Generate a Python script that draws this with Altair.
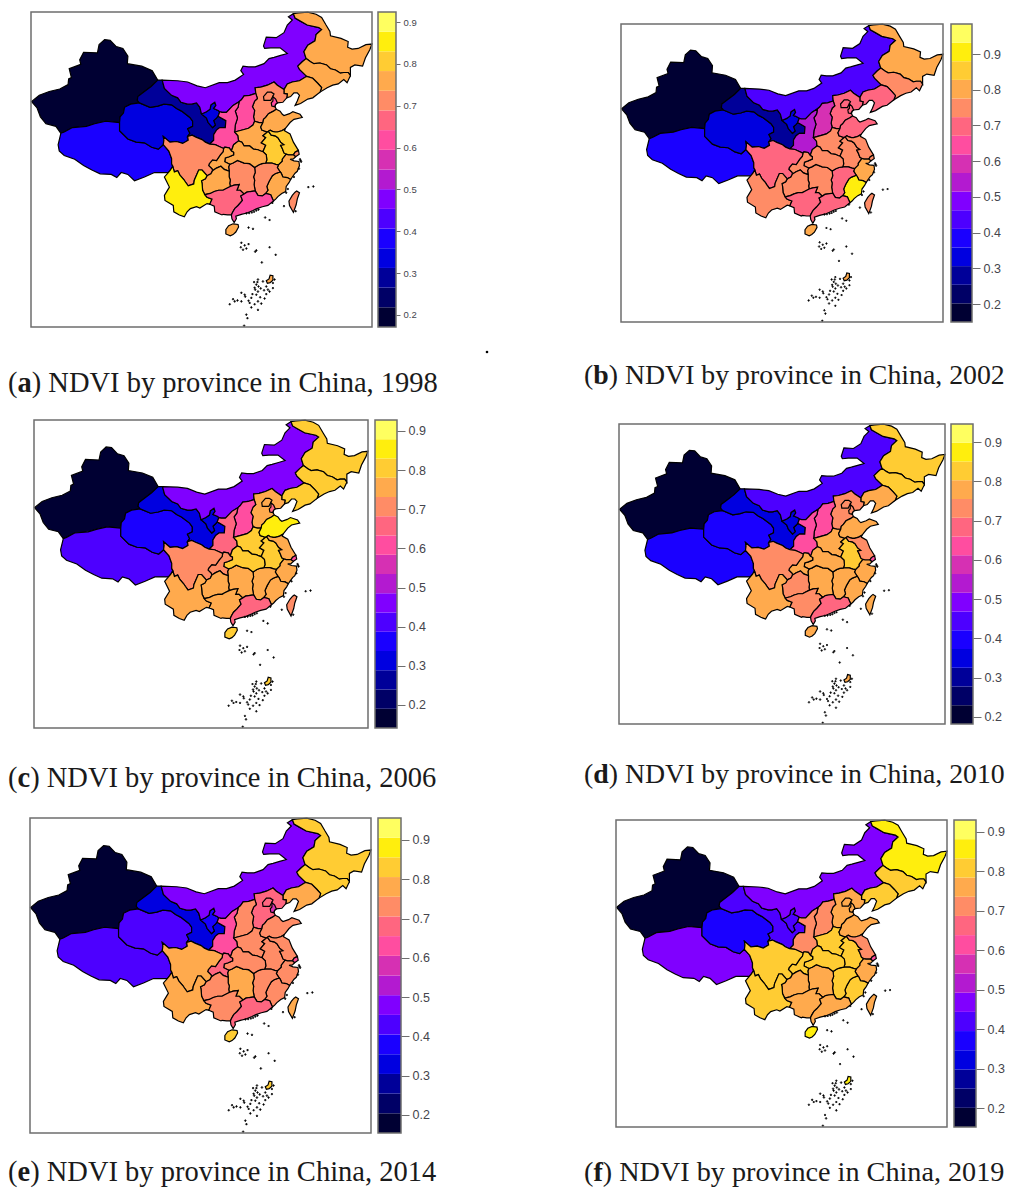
import altair as alt

MARGIN = 8
VIEW_W, VIEW_H = 1004, 1180

PALETTE = ["#000033", "#000066", "#000099", "#0000E0", "#1A00FF", "#4D00FF", "#8000FF", "#B31AD0",
           "#D630B3", "#FF4DA0", "#FF6680", "#FF8C66", "#FFAA4D", "#FFCC33", "#FFEE0D", "#FFFF60"]

PROVINCES = ["XJ", "XZ", "QH", "GS", "NX", "NM", "HLJ", "JL", "LN", "HEB", "BJ", "TJ", "SX", "SN", "HEN", "SD",
             "AH", "JS", "SH", "ZJ", "FJ", "JX", "HUN", "HUB", "CQ", "SC", "GZ", "YN", "GX", "GD", "HI", "TW"]

NDVI_1998 = [.20, .38, .34, .29, .34, .48, .76, .76, .76, .71, .71, .62, .62, .62, .76, .76,
             .81, .81, .71, .76, .76, .71, .71, .76, .76, .71, .76, .85, .67, .62, .76, .71]
NDVI_2002 = [.18, .38, .33, .28, .33, .44, .80, .75, .70, .70, .70, .70, .59, .54, .75, .70,
             .75, .75, .75, .80, .91, .70, .75, .75, .75, .70, .75, .75, .70, .70, .80, .75]
NDVI_2006 = [.17, .41, .36, .31, .31, .46, .81, .81, .81, .76, .76, .66, .61, .66, .81, .85,
             .81, .76, .61, .76, .76, .76, .76, .81, .71, .71, .76, .76, .76, .66, .81, .71]
NDVI_2010 = [.21, .40, .40, .35, .35, .45, .83, .83, .78, .73, .73, .73, .64, .64, .78, .78,
             .83, .73, .64, .78, .78, .78, .78, .78, .78, .73, .73, .78, .73, .68, .78, .78]
NDVI_2014 = [.18, .43, .43, .33, .38, .48, .83, .83, .78, .68, .68, .58, .73, .63, .73, .73,
             .73, .73, .63, .73, .73, .73, .78, .73, .68, .78, .73, .78, .73, .68, .83, .78]
NDVI_2019 = [.18, .47, .37, .42, .42, .47, .86, .81, .81, .76, .76, .76, .71, .71, .81, .76,
             .81, .71, .61, .76, .81, .81, .76, .81, .81, .81, .76, .81, .76, .76, .86, .76]

ARCS = {
 "xj_out": [(78.9,34.4),(78.0,35.5),(76.2,35.9),(75.2,37.0),(74.6,38.4),(73.6,39.4),(75.0,40.4),(76.8,41.0),(78.7,41.4),(80.2,42.1),(80.3,43.0),(80.8,43.2),(80.4,44.6),(82.5,45.3),(82.3,46.0),(83.0,47.2),(85.5,47.1),(85.8,48.4),(86.8,49.2),(87.8,49.1),(88.9,48.1),(90.1,47.8),(91.0,46.6),(90.9,45.4),(93.5,45.0),(95.4,44.3),(96.4,42.8)],
 "gs_n0": [(96.4,42.8),(97.2,42.8)],
 "xj_gs": [(96.4,42.8),(95.2,41.8),(94.0,41.0),(92.8,40.2),(92.7,39.6),(93.1,39.2)],
 "xj_qh": [(93.1,39.2),(91.5,39.0),(90.4,38.5),(90.2,37.6),(89.6,37.0),(89.5,36.1)],
 "xj_xz": [(89.5,36.1),(87.0,36.3),(85.0,35.9),(83.5,35.5),(81.0,35.3),(79.5,34.6),(78.9,34.4)],
 "xz_out": [(98.3,28.2),(97.3,28.2),(95.8,28.2),(94.0,27.5),(92.2,26.9),(91.0,27.9),(89.8,28.2),(89.0,27.4),(88.0,27.9),(86.0,28.0),(84.5,28.6),(83.0,29.3),(81.4,30.3),(79.5,30.9),(78.6,31.6),(78.4,32.6),(78.9,34.4)],
 "xz_qh": [(89.5,36.1),(89.5,34.8),(91.0,33.5),(92.5,33.0),(94.0,32.9),(95.3,32.2),(96.5,31.9),(97.4,32.6)],
 "xz_sc": [(97.4,32.6),(98.4,31.6),(98.9,30.4),(98.9,29.6),(99.1,29.2)],
 "xz_yn": [(99.1,29.2),(98.7,28.6),(98.3,28.2)],
 "qh_gs": [(93.1,39.2),(95.0,38.5),(96.4,38.7),(97.5,39.0),(98.9,38.9),(99.8,38.3),(100.7,37.9),(102.2,36.9),(102.7,36.3),(102.7,35.5),(101.8,35.1),(102.2,34.4),(101.8,33.9)],
 "qh_sc": [(97.4,32.6),(97.5,33.3),(97.4,33.9),(98.6,33.0),(99.8,33.1),(100.9,32.8),(101.9,33.3),(101.8,33.9)],
 "gs_sc": [(101.8,33.9),(102.6,34.1),(103.3,33.8),(104.4,33.4),(105.0,33.0),(105.8,32.7)],
 "sn_gs": [(105.8,32.7),(106.5,33.3),(106.5,34.2),(107.0,34.9),(107.6,35.3),(108.6,35.3),(108.7,36.4),(107.3,37.1)],
 "gs_nx": [(104.3,37.45),(105.2,36.8),(105.5,36.1),(106.3,35.3),(106.8,35.7),(106.5,36.4),(107.0,36.8),(107.3,37.1)],
 "gs_nm": [(104.3,37.45),(104.0,38.5),(103.4,39.2),(102.5,39.0),(101.8,39.0),(100.6,39.3),(100.0,40.0),(98.9,40.4),(97.6,41.5),(97.2,42.8)],
 "nx_nm": [(107.6,37.8),(107.3,38.0),(106.5,38.3),(106.9,38.8),(106.7,39.3),(106.0,38.9),(105.85,38.2),(105.2,37.8),(104.3,37.45)],
 "sn_nx": [(107.3,37.1),(107.6,37.8)],
 "nm_out": [(97.2,42.8),(100.0,42.7),(101.8,42.5),(103.5,41.9),(105.0,41.6),(107.5,42.4),(109.0,42.4),(110.4,42.8),(111.9,43.7),(111.4,44.3),(111.8,45.0),(112.8,44.9),(114.0,44.9),(115.6,45.4),(116.5,46.2),(117.4,46.4),(118.6,46.7),(119.8,47.0),(118.5,47.9),(116.8,47.9),(115.7,47.8),(115.5,48.2),(116.0,49.6),(117.8,49.5),(119.2,50.3),(119.8,51.5),(120.7,52.3),(120.0,52.8),(120.9,53.3)],
 "hlj_nm": [(120.9,53.3),(121.2,52.6),(122.0,52.2),(123.4,51.5),(125.5,51.1),(126.0,50.8),(125.0,50.0),(124.8,49.0),(123.5,48.3),(122.8,47.3),(123.2,46.2)],
 "jl_nm": [(123.2,46.2),(122.5,45.7),(121.7,45.0),(122.0,44.5),(123.3,43.4)],
 "ln_nm": [(119.2,41.3),(119.8,42.2),(120.7,42.5),(122.0,42.7),(123.3,43.4)],
 "heb_nm": [(114.1,40.7),(114.0,41.6),(115.0,41.7),(116.2,42.0),(117.4,42.5),(118.0,42.0),(119.2,41.3)],
 "sx_nm": [(111.1,39.4),(111.5,39.7),(112.0,40.3),(113.0,40.4),(114.1,40.7)],
 "sn_nm": [(107.6,37.8),(108.0,37.7),(108.8,37.7),(110.0,38.8),(111.1,39.4)],
 "hlj_out": [(120.9,53.3),(121.8,53.4),(123.5,53.55),(125.0,53.2),(126.0,52.7),(126.8,51.5),(127.5,50.5),(127.6,49.8),(129.5,49.4),(130.8,48.9),(130.7,48.0),(131.5,47.7),(132.6,47.8),(134.0,48.4),(135.1,48.5),(134.7,47.6),(133.9,46.3),(133.4,45.0),(132.0,45.2),(131.2,44.8),(131.2,43.5)],
 "jl_hlj": [(123.2,46.2),(124.0,45.7),(124.6,45.4),(125.7,45.5),(126.9,45.2),(127.6,44.6),(128.5,44.4),(129.4,43.9),(130.0,44.0),(130.8,44.0),(131.2,43.5)],
 "jl_out": [(131.2,43.5),(130.6,42.4),(130.0,42.9),(129.0,42.2),(128.0,42.0),(127.0,41.6),(125.7,40.9)],
 "ln_jl": [(123.3,43.4),(124.4,43.1),(125.3,42.3),(126.0,41.6),(125.7,40.9)],
 "ln_out": [(125.7,40.9),(124.4,40.0),(123.5,39.8),(122.2,39.1),(121.2,38.8),(121.6,39.5),(122.0,40.4),(121.6,40.8),(121.0,40.8),(120.4,40.2),(119.7,40.0)],
 "heb_ln": [(119.2,41.3),(119.2,40.7),(119.8,40.6),(119.7,40.0)],
 "heb_coast": [(119.7,40.0),(119.0,39.3),(118.0,39.2),(117.7,39.0),(117.6,38.6),(117.8,38.2)],
 "sd_heb": [(117.8,38.2),(117.3,37.9),(116.4,37.5),(115.9,36.9),(115.5,36.6),(115.4,36.1)],
 "heb_hen": [(115.4,36.1),(114.7,36.1),(113.9,36.3)],
 "sx_heb": [(114.1,40.7),(114.4,39.9),(113.9,39.5),(113.5,38.6),(113.9,38.0),(113.7,37.0),(113.9,36.3)],
 "sn_sx": [(111.1,39.4),(110.9,38.5),(110.4,37.9),(110.8,36.8),(110.4,35.7),(110.3,34.6)],
 "sx_hen": [(113.9,36.3),(113.6,35.7),(112.8,35.2),(112.0,35.0),(110.3,34.6)],
 "sn_hen": [(110.3,34.6),(110.9,34.0),(111.0,33.2)],
 "hub_sn": [(109.7,31.6),(110.1,32.6),(111.0,33.2)],
 "sn_cq": [(109.7,31.6),(109.3,32.1),(108.5,32.2),(108.3,32.0)],
 "sn_sc": [(105.8,32.7),(106.8,32.6),(107.3,32.4),(108.3,32.0)],
 "hen_hub": [(111.0,33.2),(111.6,33.0),(112.0,32.4),(113.0,32.4),(113.7,31.9),(114.5,31.8),(115.0,31.6),(115.4,31.5)],
 "ah_hen": [(115.4,31.5),(115.9,32.5),(115.1,32.9),(115.9,33.7),(115.4,34.0),(116.2,34.6)],
 "sd_hen": [(116.2,34.6),(115.2,34.9),(115.0,35.4),(115.4,36.1)],
 "sd_coast": [(117.8,38.2),(118.5,37.9),(118.9,37.4),(119.2,37.2),(120.2,37.5),(120.8,37.8),(122.1,37.4),(122.5,36.9),(121.0,36.6),(120.3,36.1),(119.4,35.1)],
 "sd_js": [(119.4,35.1),(118.8,34.8),(118.0,34.6),(117.6,34.6),(117.1,34.7),(116.7,34.9),(116.4,34.7)],
 "sd_ah": [(116.4,34.7),(116.2,34.6)],
 "js_coast": [(119.4,35.1),(119.3,34.8),(120.3,34.3),(120.9,33.0),(121.8,31.7)],
 "js_sh": [(121.8,31.7),(121.2,31.4),(120.9,31.0)],
 "js_zj": [(120.9,31.0),(120.0,31.0),(119.6,31.1)],
 "js_ah": [(119.6,31.1),(119.2,31.3),(118.9,32.0),(118.6,32.5),(119.2,32.6),(118.6,33.0),(118.1,33.7),(117.6,34.0),(116.9,34.1),(116.4,34.7)],
 "sh_out": [(121.8,31.7),(121.95,31.1),(121.3,30.7),(120.9,31.0)],
 "zj_coast": [(120.9,31.0),(121.3,30.7),(120.9,30.35),(120.3,30.3),(121.0,30.05),(121.9,29.95),(122.0,29.3),(121.6,28.4),(121.2,28.1),(120.7,27.5),(120.4,27.1)],
 "zj_fj": [(120.4,27.1),(119.8,27.4),(119.0,27.5),(118.7,28.1),(118.5,28.3)],
 "zj_jx": [(118.5,28.3),(118.0,29.0),(118.2,29.4)],
 "ah_zj": [(118.2,29.4),(118.9,30.0),(118.9,30.3),(119.6,31.1)],
 "fj_coast": [(120.4,27.1),(120.1,26.6),(119.6,26.0),(119.5,25.2),(118.8,24.9),(118.1,24.4),(117.7,24.0),(117.3,23.7)],
 "gd_fj": [(117.3,23.7),(116.8,24.7),(115.9,24.9)],
 "jx_fj": [(118.5,28.3),(117.6,28.0),(117.1,27.7),(116.5,26.8),(116.1,26.0),(116.3,25.4),(115.9,24.9)],
 "jx_hub": [(113.9,29.0),(114.6,29.4),(115.2,29.6),(115.9,29.7)],
 "ah_jx": [(115.9,29.7),(117.0,29.7),(117.7,29.5),(118.2,29.4)],
 "gd_jx": [(115.9,24.9),(115.3,24.5),(114.5,24.6),(114.0,25.3)],
 "hun_jx": [(114.0,25.3),(113.8,26.3),(113.9,27.0),(113.7,27.5),(114.0,28.2),(113.9,29.0)],
 "ah_hub": [(115.4,31.5),(116.0,31.0),(116.1,30.2),(115.9,29.7)],
 "hun_hub": [(113.9,29.0),(113.0,29.6),(112.0,29.7),(110.8,30.1),(110.0,29.7),(109.4,29.5)],
 "hub_cq": [(109.4,29.5),(108.5,29.9),(108.6,30.5),(109.3,30.7),(110.1,31.0),(110.1,31.4),(109.7,31.6)],
 "hun_cq": [(109.4,29.5),(109.2,29.1),(109.3,28.4)],
 "gz_hun": [(109.3,28.4),(109.3,27.5),(109.5,27.0),(109.4,26.5),(109.5,26.0)],
 "gx_hun": [(109.5,26.0),(110.2,26.2),(111.1,26.3),(110.7,25.4),(111.3,25.4),(112.0,24.8)],
 "gd_hun": [(114.0,25.3),(113.1,25.2),(112.5,25.1),(112.0,24.8)],
 "gz_cq": [(106.3,28.5),(107.0,28.9),(107.8,29.2),(108.4,28.7),(109.3,28.4)],
 "cq_sc": [(108.3,32.0),(108.2,31.5),(107.7,31.0),(107.0,30.1),(106.3,30.2),(105.7,29.6),(105.6,29.3),(106.2,28.8),(106.3,28.5)],
 "gz_sc": [(105.3,27.7),(106.0,28.0),(106.3,28.5)],
 "yn_sc": [(105.3,27.7),(104.4,28.6),(103.8,28.6),(103.0,27.0),(102.9,26.4),(101.9,26.1),(101.4,26.7),(101.1,27.1),(100.4,27.8),(100.0,28.5),(99.4,28.3),(99.1,29.2)],
 "gz_gx": [(109.5,26.0),(108.6,25.6),(108.2,25.4),(107.4,25.4),(106.6,25.2),(105.9,24.9),(104.9,24.7)],
 "yn_gz": [(104.9,24.7),(104.5,25.4),(104.4,26.5),(104.3,26.9),(105.0,27.2),(105.3,27.7)],
 "yn_out": [(98.3,28.2),(97.6,27.5),(98.5,25.9),(97.6,24.6),(97.7,23.8),(99.2,23.0),(99.3,22.0),(100.3,21.5),(101.2,21.2),(101.7,22.0),(102.3,22.5),(103.4,22.8),(104.0,22.6),(105.3,23.3),(105.8,23.2)],
 "yn_gx": [(105.8,23.2),(106.2,24.0),(105.3,24.3),(104.9,24.7)],
 "gx_out": [(109.7,21.5),(109.0,21.5),(108.2,21.6),(108.0,21.5),(106.7,22.0),(106.6,22.9),(105.8,23.2)],
 "gx_gd": [(112.0,24.8),(111.4,24.5),(111.7,23.8),(110.9,23.0),(110.3,22.5),(109.9,21.9),(109.7,21.5)],
 "gd_coast": [(109.7,21.5),(109.8,20.9),(110.2,20.3),(110.6,20.9),(110.5,21.3),(111.5,21.6),(112.5,21.8),(113.6,22.2),(114.3,22.5),(115.3,22.8),(116.3,23.0),(117.3,23.7)],
}

RINGS = {
 "XJ": ["xj_out", "xj_gs", "xj_qh", "xj_xz"],
 "XZ": ["-xj_xz", "xz_qh", "xz_sc", "xz_yn", "xz_out"],
 "QH": ["xj_qh", "xz_qh", "qh_sc", "-qh_gs"],
 "GS": ["xj_gs", "qh_gs", "gs_sc", "sn_gs", "-gs_nx", "gs_nm", "-gs_n0"],
 "NX": ["sn_nx", "nx_nm", "gs_nx"],
 "NM": ["nm_out", "hlj_nm", "jl_nm", "-ln_nm", "-heb_nm", "-sx_nm", "-sn_nm", "nx_nm", "gs_nm"],
 "HLJ": ["hlj_out", "-jl_hlj", "-hlj_nm"],
 "JL": ["jl_hlj", "jl_out", "-ln_jl", "-jl_nm"],
 "LN": ["ln_jl", "ln_out", "-heb_ln", "ln_nm"],
 "HEB": ["heb_nm", "heb_ln", "heb_coast", "sd_heb", "heb_hen", "-sx_heb"],
 "SX": ["sx_nm", "sx_heb", "sx_hen", "-sn_sx"],
 "SN": ["sn_nm", "sn_sx", "sn_hen", "-hub_sn", "sn_cq", "-sn_sc", "sn_gs", "sn_nx"],
 "HEN": ["sx_hen", "sn_hen", "hen_hub", "ah_hen", "sd_hen", "heb_hen"],
 "SD": ["sd_coast", "sd_js", "sd_ah", "sd_hen", "-sd_heb"],
 "JS": ["js_coast", "js_sh", "js_zj", "js_ah", "-sd_js"],
 "SH": ["sh_out", "-js_sh"],
 "ZJ": ["zj_coast", "zj_fj", "zj_jx", "ah_zj", "-js_zj"],
 "FJ": ["fj_coast", "gd_fj", "-jx_fj", "-zj_fj"],
 "JX": ["jx_hub", "ah_jx", "-zj_jx", "jx_fj", "gd_jx", "hun_jx"],
 "AH": ["ah_hub", "ah_jx", "ah_zj", "js_ah", "sd_ah", "-ah_hen"],
 "HUB": ["hub_sn", "hen_hub", "ah_hub", "-jx_hub", "hun_hub", "hub_cq"],
 "HUN": ["hun_jx", "hun_hub", "hun_cq", "gz_hun", "gx_hun", "-gd_hun"],
 "CQ": ["sn_cq", "cq_sc", "gz_cq", "-hun_cq", "hub_cq"],
 "SC": ["qh_sc", "gs_sc", "sn_sc", "cq_sc", "-gz_sc", "yn_sc", "-xz_sc"],
 "GZ": ["gz_sc", "gz_cq", "gz_hun", "gz_gx", "yn_gz"],
 "YN": ["yn_out", "yn_gx", "yn_gz", "yn_sc", "xz_yn"],
 "GX": ["gx_hun", "gx_gd", "gx_out", "yn_gx", "-gz_gx"],
 "GD": ["gd_coast", "gd_fj", "gd_jx", "gd_hun", "gx_gd"],
}
BJ_RING = [(115.5,40.2),(116.2,40.9),(116.9,40.9),(117.4,40.6),(117.1,40.1),(116.8,39.6),(116.2,39.6),(115.6,39.6)]
TJ_RING = [(117.2,40.2),(117.7,39.8),(118.0,39.2),(117.7,39.0),(117.5,38.6),(117.0,38.7),(116.9,39.2),(117.2,39.5)]
TW_RING = [(121.5,25.3),(122.0,25.0),(121.6,24.0),(121.4,23.1),(120.9,21.9),(120.2,23.0),(120.1,23.7),(120.7,24.6),(121.2,25.1)]
HI_RING = [(108.7,19.2),(109.2,19.8),(110.0,20.1),(110.9,20.0),(111.0,19.6),(110.5,18.8),(110.0,18.4),(109.5,18.2),(108.7,18.5)]
HI_ISLE = [(116.0,11.1),(116.5,11.4),(116.7,12.0),(117.2,11.9),(117.2,11.2),(116.7,10.8),(116.2,10.7)]

SPECK_LON = [115.8,116.6,112.8,113.6,123.6,124.5,121.3,119.2,111.5,112.1,111.4,112.4,111.8,112.8,114.2,114.0,116.6,117.7,115.2,
             114.2,114.5,113.9,114.5,115.4,116.0,117.2,117.5,117.2,116.6,116.0,114.2,113.3,111.5,112.2,110.3,109.4,111.5,114.5,113.9,112.8,
             113.3,112.4,112.6,112.0,114.5,115.7,114.4,114.0,114.6,113.8,
             122.2,122.3,122.1,121.9,121.0,119.9,119.6,117.1,112.4,112.9,113.4,113.8,114.2,114.6,
             115.0,115.6,116.3,113.5,114.9,110.0,110.8,112.1,113.0,115.1]
SPECK_LAT = [21.1,20.7,19.5,19.3,25.9,26.0,22.1,22.9,17.1,16.7,16.4,16.2,16.0,16.9,15.9,15.7,16.4,15.2,14.0,
             10.5,11.3,10.0,9.4,11.0,10.2,10.75,11.3,9.95,9.4,9.0,8.9,8.4,9.2,8.6,7.85,7.4,7.85,7.85,7.4,7.95,
             6.9,5.75,5.2,4.0,6.5,8.3,10.9,9.7,10.2,10.9,
             30.1,29.9,30.3,28.8,27.5,25.6,25.0,23.4,21.75,21.8,21.9,22.0,22.2,22.35,
             9.9,9.6,9.7,9.0,8.5,8.2,8.0,8.9,7.6,7.5]

TICKS = [.2, .3, .4, .5, .6, .7, .8, .9]
LON_MIN, LON_MAX, LAT_MIN, LAT_MAX = 73.5, 135.1, 3.8, 53.56

# page-pixel layout of each of the six panels
TITLES = ["a", "b", "c", "d", "e", "f"]
YEARS = [1998, 2002, 2006, 2010, 2014, 2019]
SERIES = [NDVI_1998, NDVI_2002, NDVI_2006, NDVI_2010, NDVI_2014, NDVI_2019]
FRAME_L = [31, 621, 34, 619, 30, 616]
FRAME_R = [372, 943, 368, 945, 371, 947]
FRAME_T = [12, 24, 420, 424, 818, 820]
FRAME_B = [327, 322, 728, 724, 1133, 1127]
BAR_L = [378, 951, 375, 951, 378, 954]
BAR_R = [396, 972, 397, 973, 401, 976]
BAR_LO = [.171, .150, .141, .182, .154, .152]
BAR_HI = [.924, .984, .928, .946, .956, .930]
LABEL_SIZE = [9.5, 12.5, 12.5, 12.5, 12.5, 12.5]
TICK_LEN = [4, 8, 8, 8, 8, 8]
CAP_X = [8, 584, 8, 584, 8, 584]
CAP_Y = [392, 384, 787, 783, 1181, 1181]
CAP_SIZE = [28.5, 27.8, 28.5, 27.8, 28.5, 28.2]

FRAME_COLOR, LABEL_COLOR = "#6e6e6e", "#44444c"
SERIF, SANS = "Liberation Serif", "Liberation Sans"


def ring_coords(names):
    pts = []
    for n in names:
        arc = ARCS[n.lstrip("-")]
        arc = arc[::-1] if n.startswith("-") else arc
        pts.extend(arc if not pts else arc[1:])
    return pts


def province_polys(name):
    if name in RINGS:
        return [ring_coords(RINGS[name])]
    return {"BJ": [BJ_RING], "TJ": [TJ_RING], "TW": [TW_RING], "HI": [HI_RING, HI_ISLE]}[name]


def speck(lon, lat):
    d = 0.17
    return [(lon - d, lat), (lon, lat + d), (lon + d, lat), (lon, lat - d)]


def feature(polys, place, **props):
    coords = []
    for ring in polys:
        ring = list(ring)
        if ring[0] != ring[-1]:
            ring.append(ring[0])
        coords.append([[place(lon, lat) for lon, lat in ring]])
    return {"type": "Feature", "properties": props, "geometry": {"type": "MultiPolygon", "coordinates": coords}}


# draw order: Hebei first so Beijing and Tianjin sit on top of it
DRAW_ORDER = sorted(range(len(PROVINCES)), key=lambda i: PROVINCES[i] in ("BJ", "TJ"))
ONE_ROW = alt.Data(values=[{"a": 0}])
SCREEN = dict(type="identity", scale=1, translate=[0, 0])

layers = []
for p in range(6):
    L, R, T, B = FRAME_L[p] - MARGIN, FRAME_R[p] - MARGIN, FRAME_T[p] - MARGIN, FRAME_B[p] - MARGIN
    bl, br = BAR_L[p] - MARGIN, BAR_R[p] - MARGIN
    sx = (R - L) / (LON_MAX - LON_MIN)
    sy = (B - T) / (LAT_MAX - LAT_MIN)

    def place(lon, lat, L=L, T=T, sx=sx, sy=sy):
        return [round(L + (lon - LON_MIN) * sx, 2), round(T + (LAT_MAX - lat) * sy, 2)]

    lo, hi = BAR_LO[p], BAR_HI[p]
    step = (hi - lo) / len(PALETTE)
    breaks = [lo + step * (i + 1) for i in range(len(PALETTE) - 1)]

    features = [feature(province_polys(PROVINCES[i]), place, name=PROVINCES[i], value=SERIES[p][i]) for i in DRAW_ORDER]
    specks = [feature([speck(a, b)], place, name="isle") for a, b in zip(SPECK_LON, SPECK_LAT)]
    layers.append(alt.Chart(alt.Data(values=features)).mark_geoshape(stroke="black", strokeWidth=1.2).encode(
        color=alt.Color("properties.value:Q", legend=None,
                        scale=alt.Scale(type="threshold", domain=breaks, range=PALETTE))).project(**SCREEN))
    layers.append(alt.Chart(alt.Data(values=specks)).mark_geoshape(fill="black", stroke="black", strokeWidth=0.6).project(**SCREEN))
    layers.append(alt.Chart(ONE_ROW).mark_rect(fill=None, stroke=FRAME_COLOR, strokeWidth=1.5).encode(
        x=alt.value(L), x2=alt.value(R), y=alt.value(T), y2=alt.value(B)))

    segs = [{"lo": lo + step * i, "hi": lo + step * (i + 1), "c": PALETTE[i]} for i in range(len(PALETTE))]
    bar_scale = alt.Scale(domain=[lo, hi], range=[B, T], nice=False, zero=False)
    layers.append(alt.Chart(alt.Data(values=segs)).mark_rect().encode(
        x=alt.value(bl), x2=alt.value(br),
        y=alt.Y("lo:Q", scale=bar_scale, title=None,
                axis=alt.Axis(orient="right", offset=br - VIEW_W, values=TICKS, format=".1f",
                              grid=False, domain=False, tickColor=FRAME_COLOR, tickSize=TICK_LEN[p], tickWidth=1,
                              labelFont=SANS, labelFontSize=LABEL_SIZE[p], labelColor=LABEL_COLOR, labelPadding=3,
                              labelFlush=False, labelOverlap=False, title=None)),
        y2="hi:Q",
        fill=alt.Fill("c:N", scale=None)))
    layers.append(alt.Chart(ONE_ROW).mark_rect(fill=None, stroke=FRAME_COLOR, strokeWidth=1.5).encode(
        x=alt.value(bl), x2=alt.value(br), y=alt.value(T), y2=alt.value(B)))

    cx, cy = CAP_X[p] - MARGIN, CAP_Y[p] - MARGIN
    size = CAP_SIZE[p]
    paren = 0.333 * size
    bold_w = {"a": .5, "b": .556, "c": .444, "d": .556, "e": .444, "f": .333}[TITLES[p]] * size
    for text, dx, weight in (("(", 0, "normal"), (TITLES[p], paren, "bold"),
                             (f") NDVI by province in China, {YEARS[p]}", paren + bold_w, "normal")):
        layers.append(alt.Chart(ONE_ROW).mark_text(
            text=text, font=SERIF, fontSize=size, fontWeight=weight, align="left", baseline="alphabetic",
            color="#1a1a1a").encode(x=alt.value(cx + dx), y=alt.value(cy)))

layers.append(alt.Chart(ONE_ROW).mark_circle(size=7, color="black", opacity=1).encode(
    x=alt.value(487 - MARGIN), y=alt.value(352 - MARGIN)))

chart = alt.layer(*layers).resolve_scale(y="independent", color="independent").resolve_axis(
    y="independent").properties(
    width=VIEW_W, height=VIEW_H, padding=0, autosize=alt.AutoSizeParams(type="none"), background="white"
).configure_view(stroke=None)

chart.save("out.html", embed_options={"renderer": "svg", "actions": False})
